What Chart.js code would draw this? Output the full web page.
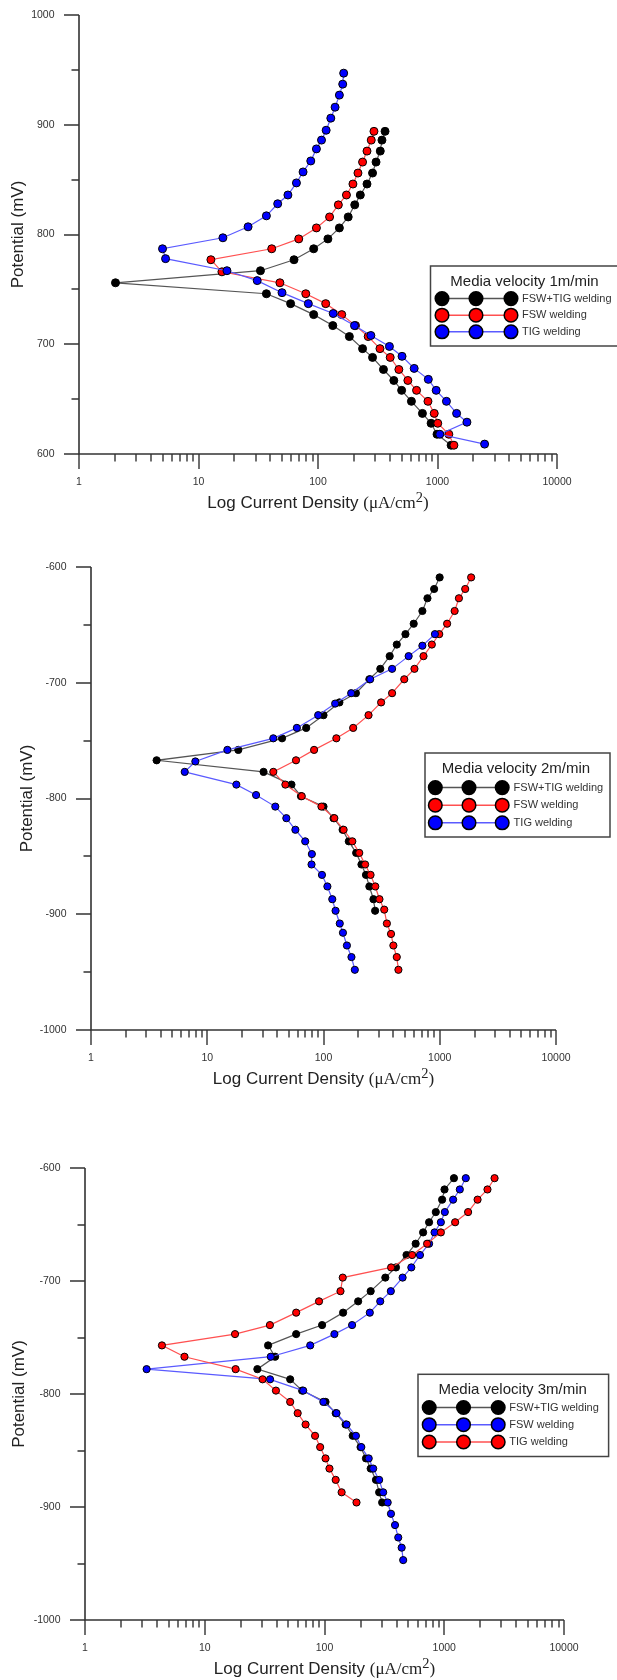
<!DOCTYPE html>
<html>
<head>
<meta charset="utf-8">
<script src="https://cdn.jsdelivr.net/npm/chart.js@4.4.1/dist/chart.umd.min.js"></script>
<style>
    html, body { margin: 0; padding: 0; background: #fff; }
    body { width: 617px; height: 1680px; position: relative; overflow: hidden; }
    canvas { position: absolute; left: 0; }
</style>
</head>
<body>
<canvas id="chart1" width="617" height="530" style="top:0px"></canvas>
<canvas id="chart2" width="617" height="560" style="top:530px"></canvas>
<canvas id="chart3" width="617" height="590" style="top:1090px"></canvas>
<script>
// Tick labels
const xTickLabels = [1, 10, 100, 1000, 10000];
const yTicks1 = [600, 700, 800, 900, 1000];
const yTicks2 = [-1000, -900, -800, -700, -600];
const yTicks3 = [-1000, -900, -800, -700, -600];

// Media velocity 1 m/min (potential mV, current uA/cm2)
const v1FswTigPotential = [894, 886, 876, 866, 856, 846, 836, 827, 816, 806, 796, 787, 777, 767, 756, 746, 737, 727, 717, 707, 696, 688, 677, 667, 658, 648, 637, 628, 618, 608];
const v1FswTigCurrent = [364, 343, 332, 306, 286, 257, 226, 203, 179, 151, 121, 92, 63, 33, 2.02, 37, 59, 92, 133, 183, 236, 286, 353, 431, 501, 605, 748, 884, 991, 1300];
const v1FswPotential = [894, 886, 876, 866, 856, 846, 836, 827, 816, 806, 796, 787, 777, 766, 756, 746, 737, 727, 717, 707, 696, 688, 677, 667, 658, 648, 637, 628, 618, 608];
const v1FswCurrent = [294, 279, 257, 236, 216, 196, 173, 148, 125, 97, 69, 41, 12.7, 15.7, 48, 79, 116, 158, 206, 263, 330, 402, 475, 565, 668, 832, 939, 1005, 1244, 1372];
const v1TigPotential = [947, 937, 927, 916, 906, 895, 886, 878, 867, 857, 847, 836, 828, 817, 807, 797, 787, 778, 767, 758, 747, 737, 728, 717, 708, 698, 689, 678, 668, 658, 648, 637, 629, 618, 609];
const v1TigCurrent = [164, 161, 151, 139, 128, 117, 107, 97, 87, 75, 66, 56, 46, 37, 26, 16, 5.0, 5.3, 17.3, 31, 50, 83, 134, 202, 277, 396, 505, 638, 838, 975, 1188, 1445, 1763, 1045, 2478];

// Media velocity 2 m/min
const v2FswTigPotential = [-609, -619, -627, -638, -649, -658, -667, -677, -688, -697, -709, -717, -728, -739, -748, -758, -767, -777, -788, -798, -807, -817, -827, -837, -847, -857, -866, -876, -887, -897];
const v2FswTigCurrent = [998, 895, 784, 709, 597, 507, 427, 371, 308, 248, 190, 137, 100, 71, 44, 18.5, 3.67, 30.5, 53, 64, 100, 122, 146, 165, 191, 212, 232, 248, 269, 278];
const v2FswPotential = [-609, -619, -627, -638, -649, -658, -667, -677, -688, -697, -709, -717, -728, -739, -748, -758, -767, -777, -788, -798, -807, -817, -827, -837, -847, -857, -866, -876, -887, -896, -908, -917, -927, -937, -948];
const v2FswCurrent = [1862, 1656, 1462, 1343, 1157, 990, 855, 725, 606, 495, 389, 313, 244, 180, 129, 83, 58, 37, 47, 65, 96, 124, 149, 177, 203, 228, 254, 279, 303, 333, 351, 381, 399, 427, 441];
const v2TigPotential = [-658, -668, -677, -688, -697, -709, -718, -728, -739, -748, -758, -768, -777, -788, -797, -807, -817, -827, -837, -848, -857, -866, -876, -887, -897, -908, -916, -927, -937, -948];
const v2TigCurrent = [909, 709, 540, 389, 252, 173, 126, 90, 59, 37, 14.9, 7.9, 6.4, 17.8, 26.3, 38.5, 47.9, 57.3, 69.6, 79.4, 78.9, 97, 108, 119, 127, 138, 147, 159, 174, 186];

// Media velocity 3 m/min
const v3FswTigPotential = [-609, -619, -628, -639, -648, -657, -667, -677, -688, -697, -709, -718, -728, -739, -747, -757, -767, -778, -787, -797, -807, -817, -827, -837, -847, -857, -866, -876, -887, -896];
const v3FswTigCurrent = [1205, 1005, 960, 850, 747, 666, 577, 484, 395, 322, 243, 191, 143, 95.5, 58, 33.8, 38.7, 27.5, 51.7, 65, 102, 124, 150, 172, 200, 222, 243, 269, 286, 303];
const v3FswPotential = [-609, -619, -628, -639, -648, -657, -667, -677, -688, -697, -709, -718, -728, -739, -747, -757, -767, -778, -787, -797, -807, -817, -827, -837, -847, -857, -866, -876, -887, -896, -906, -916, -927, -936, -947];
const v3FswCurrent = [1513, 1349, 1186, 1011, 937, 830, 747, 627, 531, 449, 358, 292, 239, 170, 121, 76, 35.6, 3.27, 35.1, 66.4, 97.8, 126, 153, 183, 203, 234, 255, 286, 309, 337, 359, 388, 413, 441, 454];
const v3TigPotential = [-609, -619, -628, -639, -648, -657, -667, -677, -688, -697, -709, -718, -728, -739, -747, -757, -767, -778, -787, -797, -807, -817, -827, -837, -847, -857, -866, -876, -887, -896];
const v3TigCurrent = [2631, 2296, 1898, 1582, 1233, 937, 719, 539, 360, 142, 136, 90, 58, 35, 17.9, 4.39, 6.77, 18.1, 30.4, 39.3, 51.7, 59.7, 69.5, 83.4, 92, 102, 110, 124, 139, 185];

const SANS = '"Liberation Sans", Arial, sans-serif';
const SERIF = '"Liberation Serif", "Times New Roman", serif';

const BLACK = { fill: '#000000', line: '#555555' };
const RED = { fill: '#ff0000', line: '#ff5050' };
const BLUE = { fill: '#0000ff', line: '#5a5aff' };

function series(label, xs, ys, colour, order, radius) {
    return {
        label: label,
        data: xs.map((x, i) => ({ x: x, y: ys[i] })),
        showLine: true,
        borderColor: colour.line,
        borderWidth: 1.2,
        pointBackgroundColor: colour.fill,
        pointBorderColor: '#000',
        pointBorderWidth: 1,
        pointRadius: radius,
        pointHoverRadius: radius,
        order: order
    };
}

function drawXTitle(ctx, cx, cy) {
    const size = 17;
    const partA = 'Log Current Density ';
    ctx.font = size + 'px ' + SANS;
    const wA = ctx.measureText(partA).width;
    ctx.font = size + 'px ' + SERIF;
    const wB = ctx.measureText('(\u03bcA/cm').width;
    ctx.font = (size * 0.85) + 'px ' + SERIF;
    const wSup = ctx.measureText('2').width;
    ctx.font = size + 'px ' + SERIF;
    const wC = ctx.measureText(')').width;

    let x = cx - (wA + wB + wSup + wC) / 2;
    ctx.fillStyle = '#222';
    ctx.textAlign = 'left';
    ctx.textBaseline = 'middle';
    ctx.font = size + 'px ' + SANS;
    ctx.fillText(partA, x, cy);
    x += wA;
    ctx.font = size + 'px ' + SERIF;
    ctx.fillText('(\u03bcA/cm', x, cy);
    x += wB;
    ctx.font = (size * 0.85) + 'px ' + SERIF;
    ctx.fillText('2', x, cy - 5);
    x += wSup;
    ctx.font = size + 'px ' + SERIF;
    ctx.fillText(')', x, cy);
}

const paperFrame = {
    id: 'paperFrame',
    beforeDatasetsDraw(chart, args, opts) {
        const ctx = chart.ctx;
        const xs = chart.scales.x;
        const ys = chart.scales.y;
        const left = Math.round(xs.getPixelForValue(1));
        const right = Math.round(xs.getPixelForValue(10000));
        const top = Math.round(ys.getPixelForValue(ys.max));
        const bottom = Math.round(ys.getPixelForValue(ys.min));

        ctx.save();
        ctx.strokeStyle = '#333';
        ctx.lineWidth = 1.6;
        ctx.beginPath();
        ctx.moveTo(left, top);
        ctx.lineTo(left, bottom);
        ctx.lineTo(right, bottom);
        ctx.stroke();

        // y ticks: major every 100, minor halfway
        ctx.lineWidth = 1.4;
        ctx.beginPath();
        opts.yTicks.forEach((v, i) => {
            const py = Math.round(ys.getPixelForValue(v));
            ctx.moveTo(left - 15, py);
            ctx.lineTo(left, py);
            if (i < opts.yTicks.length - 1) {
                const pm = Math.round(ys.getPixelForValue((v + opts.yTicks[i + 1]) / 2));
                ctx.moveTo(left - 7.5, pm);
                ctx.lineTo(left, pm);
            }
        });
        // x ticks: decades long, 2..9 short
        xTickLabels.forEach((v, i) => {
            const px = Math.round(xs.getPixelForValue(v));
            ctx.moveTo(px, bottom);
            ctx.lineTo(px, bottom + 15);
            if (i < xTickLabels.length - 1) {
                for (let d = 2; d <= 9; d++) {
                    const pm = Math.round(xs.getPixelForValue(v * d));
                    ctx.moveTo(pm, bottom);
                    ctx.lineTo(pm, bottom + 7.5);
                }
            }
        });
        ctx.stroke();

        // tick labels
        ctx.fillStyle = '#333';
        ctx.font = '10.5px ' + SANS;
        ctx.textAlign = 'right';
        ctx.textBaseline = 'middle';
        opts.yTicks.forEach(v => {
            ctx.fillText(String(v), left - 24.5, ys.getPixelForValue(v));
        });
        ctx.textAlign = 'center';
        xTickLabels.forEach(v => {
            ctx.fillText(String(v), xs.getPixelForValue(v), bottom + 28.5);
        });

        // axis titles
        drawXTitle(ctx, (left + right) / 2, bottom + 49.5);
        ctx.save();
        ctx.translate(opts.yTitleX, (top + bottom) / 2);
        ctx.rotate(-Math.PI / 2);
        ctx.fillStyle = '#222';
        ctx.font = '17px ' + SANS;
        ctx.textAlign = 'center';
        ctx.textBaseline = 'middle';
        ctx.fillText('Potential (mV)', 0, 0);
        ctx.restore();
        ctx.restore();
    },
    afterDraw(chart, args, opts) {
        const lg = opts.legend;
        const ctx = chart.ctx;
        ctx.save();
        ctx.fillStyle = '#fff';
        ctx.fillRect(lg.box[0], lg.box[1], lg.box[2], lg.box[3]);
        ctx.strokeStyle = '#444';
        ctx.lineWidth = 1.5;
        ctx.strokeRect(lg.box[0], lg.box[1], lg.box[2], lg.box[3]);

        ctx.fillStyle = '#222';
        ctx.font = '15px ' + SANS;
        ctx.textAlign = 'center';
        ctx.textBaseline = 'middle';
        ctx.fillText(lg.title, lg.titleX, lg.titleY);

        chart.data.datasets.forEach((ds, i) => {
            const y = lg.rows[i];
            ctx.strokeStyle = ds.borderColor;
            ctx.lineWidth = 1.5;
            ctx.beginPath();
            ctx.moveTo(lg.marks[0], y);
            ctx.lineTo(lg.marks[2], y);
            ctx.stroke();
            lg.marks.forEach(mx => {
                ctx.beginPath();
                ctx.arc(mx, y, 6.8, 0, Math.PI * 2);
                ctx.fillStyle = ds.pointBackgroundColor;
                ctx.fill();
                ctx.strokeStyle = '#000';
                ctx.lineWidth = 1.5;
                ctx.stroke();
            });
            ctx.fillStyle = '#333';
            ctx.font = '11px ' + SANS;
            ctx.textAlign = 'left';
            ctx.fillText(ds.label, lg.labelX, y);
        });
        ctx.restore();
    }
};

function buildChart(id, cfg) {
    const ctx = document.getElementById(id).getContext('2d');
    new Chart(ctx, {
        type: 'scatter',
        data: { datasets: cfg.datasets },
        options: {
            responsive: false,
            animation: false,
            layout: { padding: cfg.padding },
            scales: {
                x: { type: 'logarithmic', min: 1, max: 10000, display: false },
                y: { type: 'linear', min: cfg.yTicks[0], max: cfg.yTicks[cfg.yTicks.length - 1], display: false }
            },
            plugins: {
                legend: { display: false },
                tooltip: { enabled: false },
                paperFrame: {
                    yTicks: cfg.yTicks,
                    yTitleX: cfg.yTitleX,
                    legend: cfg.legend
                }
            }
        },
        plugins: [paperFrame]
    });
}

buildChart('chart1', {
    padding: { left: 79, right: 60, top: 15, bottom: 76 },
    yTicks: yTicks1,
    yTitleX: 18,
    datasets: [
        series('FSW+TIG welding', v1FswTigCurrent, v1FswTigPotential, BLACK, 3, 4),
        series('FSW welding', v1FswCurrent, v1FswPotential, RED, 2, 4),
        series('TIG welding', v1TigCurrent, v1TigPotential, BLUE, 1, 4)
    ],
    legend: {
        box: [430.5, 266, 200, 80],
        title: 'Media velocity 1m/min', titleX: 524.5, titleY: 281.5,
        marks: [442, 476, 511], labelX: 522, rows: [298.6, 315.2, 331.8]
    }
});

buildChart('chart2', {
    padding: { left: 91, right: 61, top: 37, bottom: 60 },
    yTicks: yTicks2,
    yTitleX: 27,
    datasets: [
        series('FSW+TIG welding', v2FswTigCurrent, v2FswTigPotential, BLACK, 3, 3.6),
        series('FSW welding', v2FswCurrent, v2FswPotential, RED, 2, 3.6),
        series('TIG welding', v2TigCurrent, v2TigPotential, BLUE, 1, 3.6)
    ],
    legend: {
        box: [425, 223, 185, 84],
        title: 'Media velocity 2m/min', titleX: 516, titleY: 238.7,
        marks: [435.3, 469, 502.2], labelX: 513.6, rows: [257.6, 275.2, 292.8]
    }
});

buildChart('chart3', {
    padding: { left: 85, right: 53, top: 78, bottom: 60 },
    yTicks: yTicks3,
    yTitleX: 19,
    datasets: [
        series('FSW+TIG welding', v3FswTigCurrent, v3FswTigPotential, BLACK, 3, 3.6),
        series('FSW welding', v3FswCurrent, v3FswPotential, BLUE, 2, 3.6),
        series('TIG welding', v3TigCurrent, v3TigPotential, RED, 1, 3.6)
    ],
    legend: {
        box: [418, 284.3, 190.6, 82.2],
        title: 'Media velocity 3m/min', titleX: 512.7, titleY: 299.5,
        marks: [429.2, 463.5, 498.2], labelX: 509.3, rows: [317.5, 334.7, 352]
    }
});
</script>
</body>
</html>
